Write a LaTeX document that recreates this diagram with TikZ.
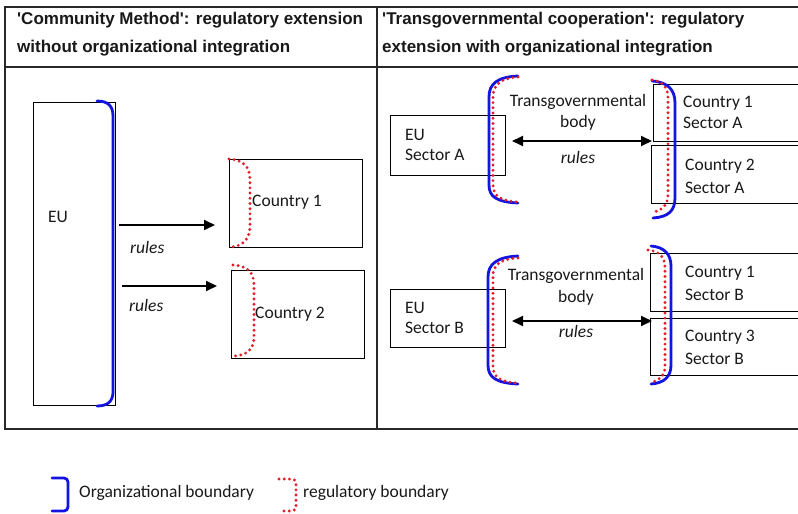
\documentclass[tikz,border=0pt]{standalone}
\usepackage{fontspec}
\setmainfont{Carlito}
\newfontfamily\hdrfont{Liberation Sans}
\usetikzlibrary{arrows.meta}
\definecolor{orgblue}{RGB}{20,20,225}
\definecolor{regred}{RGB}{225,30,40}
\definecolor{linegray}{RGB}{40,40,40}
\begin{document}
\begin{tikzpicture}[x=1pt,y=-1pt,
  tabline/.style={draw=linegray,line width=1.5pt},
  box/.style={draw=black,line width=1.2pt,rectangle,inner sep=0pt,anchor=north west},
  hdr/.style={anchor=base west,inner sep=0pt,font=\hdrfont\bfseries\fontsize{17}{20}\selectfont,text=black!90},
  txt/.style={anchor=base west,inner sep=0pt,font=\fontsize{17.5}{20}\selectfont,text=black!90},
  ctxt/.style={anchor=base,inner sep=0pt,font=\fontsize{17.5}{20}\selectfont,text=black!90},
  rl/.style={anchor=base west,inner sep=0pt,font=\itshape\fontsize{17.5}{20}\selectfont,text=black!90},
  crl/.style={anchor=base,inner sep=0pt,font=\itshape\fontsize{17.5}{20}\selectfont,text=black!90},
  arr/.style={draw=black,line width=1.8pt,-{Triangle[length=11pt,width=10pt]}},
  darr/.style={draw=black,line width=1.8pt,{Triangle[length=11pt,width=10pt]}-{Triangle[length=11pt,width=10pt]}},
  orgb/.style={draw=orgblue,line width=2.8pt,line cap=round},
  regb/.style={draw=regred,line width=3.2pt,line cap=round,dash pattern=on 0pt off 5.2pt}]
\useasboundingbox (0,0) rectangle (798,514);
\fill[white] (0,0) rectangle (798,514);
% table
\draw[tabline] (802,7) -- (5,7) -- (5,429) -- (802,429);
\draw[tabline] (5,67) -- (802,67);
\draw[tabline] (377,7) -- (377,429);
% headers
\node[hdr] (h1) at (17,24) {'Community Method': regulatory extension};
\node[hdr] (h2) at (17,52) {without organizational integration};
\node[hdr] (h3) at (382,24) {'Transgovernmental cooperation': regulatory};
\node[hdr] (h4) at (382,52) {extension with organizational integration};
% left panel
\node[box,minimum width=82pt,minimum height=303pt] (eu) at (33,102) {};
\node[txt] (eut) at (48,222) {EU};
\node[box,minimum width=133pt,minimum height=88pt] (c1) at (229,159) {};
\node[box,minimum width=133pt,minimum height=88pt] (c2) at (231,270) {};
\node[txt] (c1t) at (252,206) {Country 1};
\node[txt] (c2t) at (255,318) {Country 2};
\coordinate (a1s) at (119,225); \coordinate (a1e) at (215,225);
\coordinate (a2s) at (122,286); \coordinate (a2e) at (217,286);
\draw[arr] (a1s) -- (a1e);
\draw[arr] (a2s) -- (a2e);
\node[rl] (r1) at (130,253) {rules};
\node[rl] (r2) at (129,311) {rules};
\draw[orgb] (97,101) .. controls (108,101) and (113,106) .. (113,116) -- (113,392) .. controls (113,401) and (108,406) .. (97,406);
\draw[regb] (229,159) .. controls (244,160) and (250,167) .. (250,180) -- (250,226) .. controls (250,239) and (243,246) .. (231,247);
\draw[regb] (233,265) .. controls (248,266) and (254,273) .. (254,285) -- (254,337) .. controls (254,349) and (247,355) .. (235,356);
% right panel top
\node[box,minimum width=115pt,minimum height=60pt] (eua) at (390,115) {};
\node[txt] (euat1) at (405,140.5) {EU};
\node[txt] (euat2) at (405,160.5) {Sector A};
\node[box,minimum width=146pt,minimum height=57pt] (c1a) at (653,84) {};
\node[box,minimum width=148pt,minimum height=58pt] (c2a) at (651,145) {};
\node[txt] (c1at1) at (683,107.5) {Country 1};
\node[txt] (c1at2) at (683,128.5) {Sector A};
\node[txt] (c2at1) at (685,170.5) {Country 2};
\node[txt] (c2at2) at (685,193.5) {Sector A};
\node[ctxt] (tga1) at (578,106.5) {Transgovernmental};
\node[ctxt] (tga2) at (578,127.5) {body};
\coordinate (da1) at (512,141); \coordinate (da2) at (652,141);
\draw[darr] (da1) -- (da2);
\node[crl] (ra) at (578,163) {rules};
\draw[orgb] (518,76) .. controls (497,77) and (489,84) .. (489,97) -- (489,185) .. controls (489,197) and (497,202) .. (518,203);
\draw[regb] (518,77) .. controls (501,78) and (493,85) .. (493,97) -- (493,185) .. controls (493,196) and (501,201) .. (518,202);
\draw[orgb] (652,81) .. controls (668,82) and (675,90) .. (675,103) -- (675,198) .. controls (675,211) and (668,217) .. (653,218);
\draw[regb] (652,80) .. controls (663,81) and (668,88) .. (668,98) -- (668,195) .. controls (668,205) and (662,211) .. (652,212);
% right panel bottom
\node[box,minimum width=115pt,minimum height=58pt] (eub) at (390,289) {};
\node[txt] (eubt1) at (405,313.5) {EU};
\node[txt] (eubt2) at (405,333.5) {Sector B};
\node[box,minimum width=149pt,minimum height=58pt] (c1b) at (650,253) {};
\node[box,minimum width=149pt,minimum height=57pt] (c3b) at (650,318) {};
\node[txt] (c1bt1) at (685,277.5) {Country 1};
\node[txt] (c1bt2) at (685,300.5) {Sector B};
\node[txt] (c3bt1) at (685,341.5) {Country 3};
\node[txt] (c3bt2) at (685,364.5) {Sector B};
\node[ctxt] (tgb1) at (576,280.5) {Transgovernmental};
\node[ctxt] (tgb2) at (576,302.5) {body};
\coordinate (db1) at (512,321); \coordinate (db2) at (652,321);
\draw[darr] (db1) -- (db2);
\node[crl] (rb) at (576,337) {rules};
\draw[orgb] (518,256) .. controls (497,257) and (488,264) .. (488,277) -- (488,365) .. controls (488,378) and (497,383) .. (518,384);
\draw[regb] (518,258) .. controls (500,259) and (493,265) .. (493,276) -- (493,366) .. controls (493,377) and (500,382) .. (518,383);
\draw[orgb] (651,246) .. controls (664,247) and (671,254) .. (671,266) -- (671,365) .. controls (671,377) and (664,383) .. (651,384);
\draw[regb] (648,250) .. controls (659,251) and (665,257) .. (665,267) -- (665,366) .. controls (665,376) and (659,381) .. (651,382);
% legend
\draw[orgb,rounded corners=4pt] (52,478) -- (68,478) -- (68,511) -- (52,511);
\node[txt] (lg1) at (79,497.5) {Organizational boundary};
\draw[regb,rounded corners=4pt] (279,479) -- (296,479) -- (296,511) -- (279,511);
\node[txt] (lg2) at (303,497.5) {regulatory boundary};
\end{tikzpicture}
\end{document}
